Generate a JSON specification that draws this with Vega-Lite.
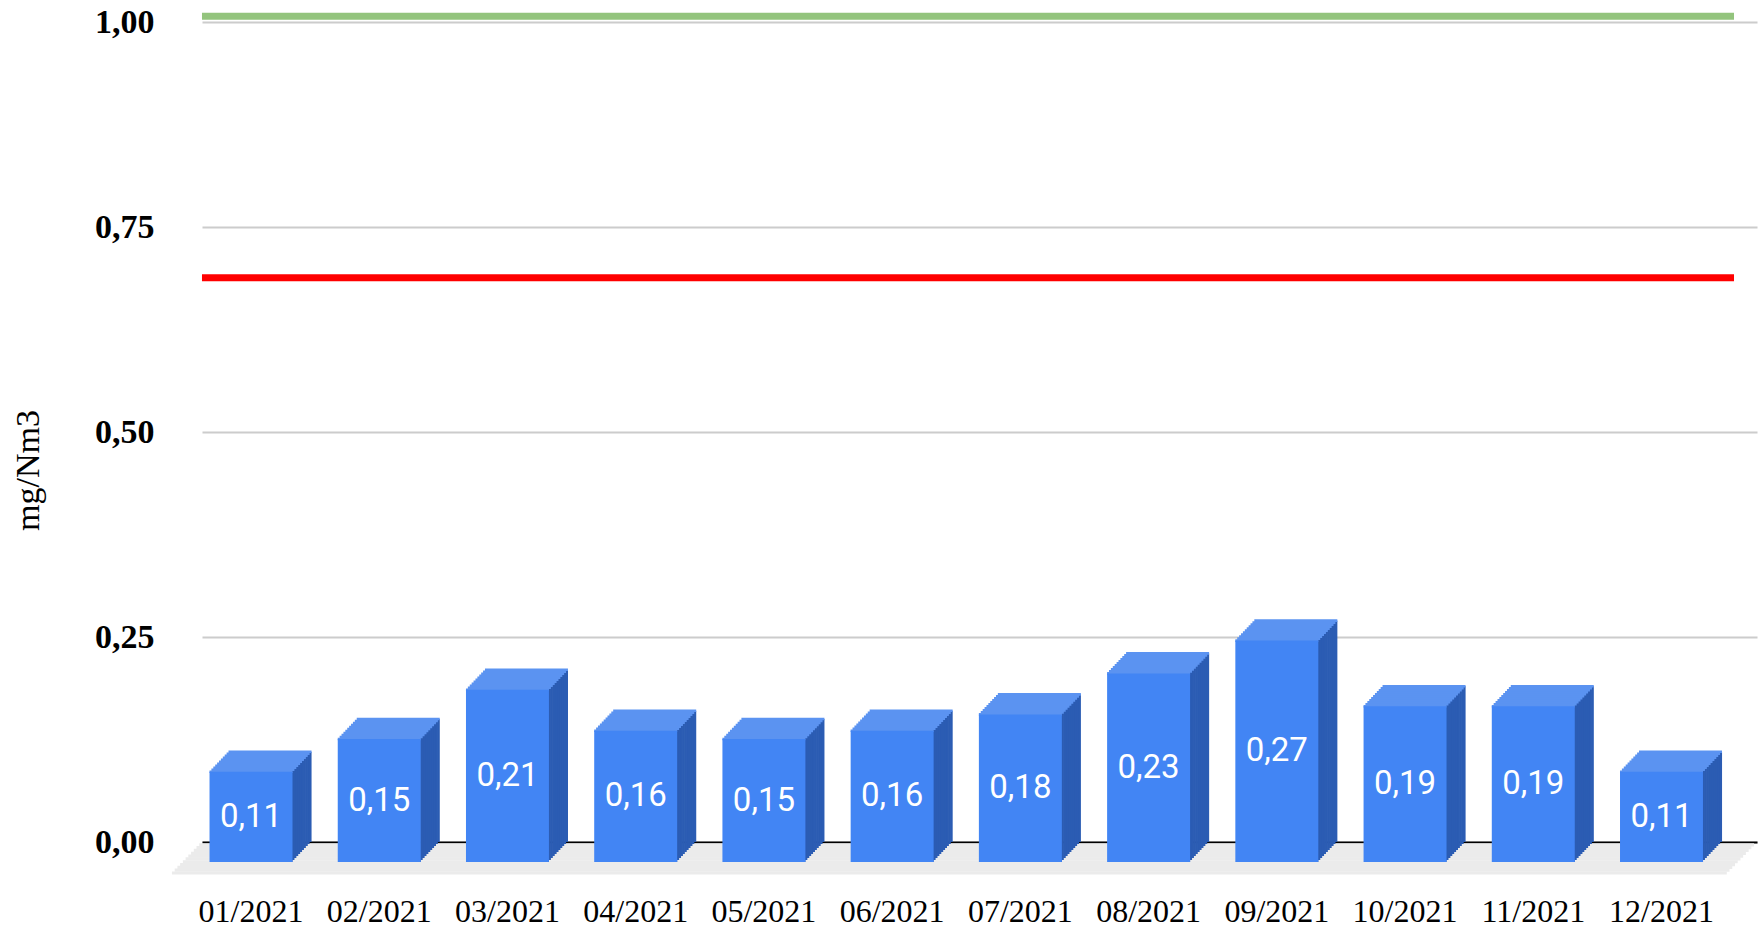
{
  "$schema": "https://vega.github.io/schema/vega-lite/v6.json",
  "width": 1555,
  "height": 820,
  "autosize": {"type": "none"},
  "padding": {"left": 202, "top": 22, "right": 6, "bottom": 90},
  "background": "white",
  "config": {
    "view": {"stroke": null},
    "tick": {"opacity": 1},
    "locale": {"number": {"decimal": ",", "thousands": ".", "grouping": [3], "currency": ["", " €"]}}
  },
  "datasets": {
    "bars": [
      {"month": "01/2021", "value": 0.11},
      {"month": "02/2021", "value": 0.15},
      {"month": "03/2021", "value": 0.21},
      {"month": "04/2021", "value": 0.16},
      {"month": "05/2021", "value": 0.15},
      {"month": "06/2021", "value": 0.16},
      {"month": "07/2021", "value": 0.18},
      {"month": "08/2021", "value": 0.23},
      {"month": "09/2021", "value": 0.27},
      {"month": "10/2021", "value": 0.19},
      {"month": "11/2021", "value": 0.19},
      {"month": "12/2021", "value": 0.11}
    ],
    "limits": [
      {"limit": "green", "value": 1.007},
      {"limit": "red", "value": 0.688}
    ]
  },
  "data": {"name": "bars"},
  "layer": [
    {"mark": {"type": "bar", "color": "#4285f4", "opacity": 0},
     "encoding": {
       "x": {"field": "month", "type": "nominal", "sort": null,
             "scale": {"paddingInner": 0.353, "paddingOuter": 0.24, "align": 0.431},
             "axis": {"title": null, "labelAngle": 0, "labelFont": "Liberation Serif", "labelFontSize": 32, "labelColor": "#000000",
                      "labelPadding": 54, "labelBaseline": "top", "labelOffset": -19, "ticks": false, "domain": true,
                      "domainColor": "#000000", "domainWidth": 2, "grid": false}},
       "y": {"field": "value", "type": "quantitative",
             "scale": {"domain": [0, 1], "nice": false, "zero": true},
             "axis": {"title": "mg/Nm3", "values": [0, 0.25, 0.5, 0.75, 1], "format": ".2f",
                      "labelFont": "Liberation Serif", "labelFontWeight": "bold", "labelFontSize": 34, "labelColor": "#000000",
                      "labelPadding": 48, "labelBaseline": "middle", "ticks": false, "domain": false,
                      "gridColor": "#cccccc", "gridWidth": 2,
                      "titleFont": "Liberation Serif", "titleFontSize": 34, "titleFontWeight": "normal", "titleColor": "#000000",
                      "titleX": -174, "titleY": 448, "titleAngle": -90, "titleBaseline": "middle", "titleAlign": "center"}}
     }},
    {"data": {"values": [{}]}, "mark": {"type": "rule", "color": "#ebebeb", "strokeWidth": 3.2, "xOffset": -2.73, "x2Offset": -2.73, "yOffset": 2.82, "y2Offset": 2.82}, "encoding": {"x": {"datum": "01/2021", "bandPosition": -0.32}, "x2": {"datum": "12/2021", "bandPosition": 1.42}, "y": {"datum": 0}}},
    {"data": {"values": [{}]}, "mark": {"type": "rule", "color": "#ebebeb", "strokeWidth": 3.2, "xOffset": -5.46, "x2Offset": -5.46, "yOffset": 5.64, "y2Offset": 5.64}, "encoding": {"x": {"datum": "01/2021", "bandPosition": -0.32}, "x2": {"datum": "12/2021", "bandPosition": 1.42}, "y": {"datum": 0}}},
    {"data": {"values": [{}]}, "mark": {"type": "rule", "color": "#ebebeb", "strokeWidth": 3.2, "xOffset": -8.19, "x2Offset": -8.19, "yOffset": 8.46, "y2Offset": 8.46}, "encoding": {"x": {"datum": "01/2021", "bandPosition": -0.32}, "x2": {"datum": "12/2021", "bandPosition": 1.42}, "y": {"datum": 0}}},
    {"data": {"values": [{}]}, "mark": {"type": "rule", "color": "#ebebeb", "strokeWidth": 3.2, "xOffset": -10.92, "x2Offset": -10.92, "yOffset": 11.28, "y2Offset": 11.28}, "encoding": {"x": {"datum": "01/2021", "bandPosition": -0.32}, "x2": {"datum": "12/2021", "bandPosition": 1.42}, "y": {"datum": 0}}},
    {"data": {"values": [{}]}, "mark": {"type": "rule", "color": "#ebebeb", "strokeWidth": 3.2, "xOffset": -13.65, "x2Offset": -13.65, "yOffset": 14.1, "y2Offset": 14.1}, "encoding": {"x": {"datum": "01/2021", "bandPosition": -0.32}, "x2": {"datum": "12/2021", "bandPosition": 1.42}, "y": {"datum": 0}}},
    {"data": {"values": [{}]}, "mark": {"type": "rule", "color": "#ebebeb", "strokeWidth": 3.2, "xOffset": -16.38, "x2Offset": -16.38, "yOffset": 16.92, "y2Offset": 16.92}, "encoding": {"x": {"datum": "01/2021", "bandPosition": -0.32}, "x2": {"datum": "12/2021", "bandPosition": 1.42}, "y": {"datum": 0}}},
    {"data": {"values": [{}]}, "mark": {"type": "rule", "color": "#ebebeb", "strokeWidth": 3.2, "xOffset": -19.11, "x2Offset": -19.11, "yOffset": 19.74, "y2Offset": 19.74}, "encoding": {"x": {"datum": "01/2021", "bandPosition": -0.32}, "x2": {"datum": "12/2021", "bandPosition": 1.42}, "y": {"datum": 0}}},
    {"data": {"values": [{}]}, "mark": {"type": "rule", "color": "#ebebeb", "strokeWidth": 3.2, "xOffset": -21.84, "x2Offset": -21.84, "yOffset": 22.56, "y2Offset": 22.56}, "encoding": {"x": {"datum": "01/2021", "bandPosition": -0.32}, "x2": {"datum": "12/2021", "bandPosition": 1.42}, "y": {"datum": 0}}},
    {"data": {"values": [{}]}, "mark": {"type": "rule", "color": "#ebebeb", "strokeWidth": 3.2, "xOffset": -24.57, "x2Offset": -24.57, "yOffset": 25.38, "y2Offset": 25.38}, "encoding": {"x": {"datum": "01/2021", "bandPosition": -0.32}, "x2": {"datum": "12/2021", "bandPosition": 1.42}, "y": {"datum": 0}}},
    {"data": {"values": [{}]}, "mark": {"type": "rule", "color": "#ebebeb", "strokeWidth": 3.2, "xOffset": -27.3, "x2Offset": -27.3, "yOffset": 28.2, "y2Offset": 28.2}, "encoding": {"x": {"datum": "01/2021", "bandPosition": -0.32}, "x2": {"datum": "12/2021", "bandPosition": 1.42}, "y": {"datum": 0}}},
    {"data": {"values": [{}]}, "mark": {"type": "rule", "color": "#ebebeb", "strokeWidth": 3.2, "xOffset": -30.03, "x2Offset": -30.03, "yOffset": 31.02, "y2Offset": 31.02}, "encoding": {"x": {"datum": "01/2021", "bandPosition": -0.32}, "x2": {"datum": "12/2021", "bandPosition": 1.42}, "y": {"datum": 0}}},
    {"data": {"name": "limits"}, "mark": {"type": "rule", "strokeWidth": 7},
     "encoding": {"x": {"datum": "01/2021", "bandPosition": -0.32}, "x2": {"datum": "12/2021", "bandPosition": 1.145},
                  "y": {"field": "value", "type": "quantitative"},
                  "color": {"field": "limit", "type": "nominal", "scale": {"domain": ["green", "red"], "range": ["#93c47d", "#ff0000"]}, "legend": null}}},
    {"mark": {"type": "bar", "color": "#2b5cb3", "width": 2.6, "xOffset": 21.25, "x2Offset": 21.25, "yOffset": 20, "y2Offset": 20}, "encoding": {"x": {"field": "month", "type": "nominal"}, "y": {"field": "value", "type": "quantitative"}}},
    {"mark": {"type": "bar", "color": "#2b5cb3", "width": 2.6, "xOffset": 23.15, "x2Offset": 23.15, "yOffset": 18, "y2Offset": 18}, "encoding": {"x": {"field": "month", "type": "nominal"}, "y": {"field": "value", "type": "quantitative"}}},
    {"mark": {"type": "bar", "color": "#2b5cb3", "width": 2.6, "xOffset": 25.05, "x2Offset": 25.05, "yOffset": 16, "y2Offset": 16}, "encoding": {"x": {"field": "month", "type": "nominal"}, "y": {"field": "value", "type": "quantitative"}}},
    {"mark": {"type": "bar", "color": "#2b5cb3", "width": 2.6, "xOffset": 26.95, "x2Offset": 26.95, "yOffset": 14, "y2Offset": 14}, "encoding": {"x": {"field": "month", "type": "nominal"}, "y": {"field": "value", "type": "quantitative"}}},
    {"mark": {"type": "bar", "color": "#2b5cb3", "width": 2.6, "xOffset": 28.85, "x2Offset": 28.85, "yOffset": 12, "y2Offset": 12}, "encoding": {"x": {"field": "month", "type": "nominal"}, "y": {"field": "value", "type": "quantitative"}}},
    {"mark": {"type": "bar", "color": "#2b5cb3", "width": 2.6, "xOffset": 30.75, "x2Offset": 30.75, "yOffset": 10, "y2Offset": 10}, "encoding": {"x": {"field": "month", "type": "nominal"}, "y": {"field": "value", "type": "quantitative"}}},
    {"mark": {"type": "bar", "color": "#2b5cb3", "width": 2.6, "xOffset": 32.65, "x2Offset": 32.65, "yOffset": 8, "y2Offset": 8}, "encoding": {"x": {"field": "month", "type": "nominal"}, "y": {"field": "value", "type": "quantitative"}}},
    {"mark": {"type": "bar", "color": "#2b5cb3", "width": 2.6, "xOffset": 34.55, "x2Offset": 34.55, "yOffset": 6, "y2Offset": 6}, "encoding": {"x": {"field": "month", "type": "nominal"}, "y": {"field": "value", "type": "quantitative"}}},
    {"mark": {"type": "bar", "color": "#2b5cb3", "width": 2.6, "xOffset": 36.45, "x2Offset": 36.45, "yOffset": 4, "y2Offset": 4}, "encoding": {"x": {"field": "month", "type": "nominal"}, "y": {"field": "value", "type": "quantitative"}}},
    {"mark": {"type": "bar", "color": "#2b5cb3", "width": 2.6, "xOffset": 38.35, "x2Offset": 38.35, "yOffset": 2, "y2Offset": 2}, "encoding": {"x": {"field": "month", "type": "nominal"}, "y": {"field": "value", "type": "quantitative"}}},
    {"mark": {"type": "bar", "color": "#2b5cb3", "width": 2.6, "xOffset": 40.25, "x2Offset": 40.25, "yOffset": 0, "y2Offset": 0}, "encoding": {"x": {"field": "month", "type": "nominal"}, "y": {"field": "value", "type": "quantitative"}}},
    {"mark": {"type": "tick", "color": "#5b93f1", "opacity": 1, "size": 83, "thickness": 2.6, "orient": "horizontal", "xOffset": -19, "yOffset": 20}, "encoding": {"x": {"field": "month", "type": "nominal"}, "y": {"field": "value", "type": "quantitative"}}},
    {"mark": {"type": "tick", "color": "#5b93f1", "opacity": 1, "size": 83, "thickness": 2.6, "orient": "horizontal", "xOffset": -17.1, "yOffset": 18}, "encoding": {"x": {"field": "month", "type": "nominal"}, "y": {"field": "value", "type": "quantitative"}}},
    {"mark": {"type": "tick", "color": "#5b93f1", "opacity": 1, "size": 83, "thickness": 2.6, "orient": "horizontal", "xOffset": -15.2, "yOffset": 16}, "encoding": {"x": {"field": "month", "type": "nominal"}, "y": {"field": "value", "type": "quantitative"}}},
    {"mark": {"type": "tick", "color": "#5b93f1", "opacity": 1, "size": 83, "thickness": 2.6, "orient": "horizontal", "xOffset": -13.3, "yOffset": 14}, "encoding": {"x": {"field": "month", "type": "nominal"}, "y": {"field": "value", "type": "quantitative"}}},
    {"mark": {"type": "tick", "color": "#5b93f1", "opacity": 1, "size": 83, "thickness": 2.6, "orient": "horizontal", "xOffset": -11.4, "yOffset": 12}, "encoding": {"x": {"field": "month", "type": "nominal"}, "y": {"field": "value", "type": "quantitative"}}},
    {"mark": {"type": "tick", "color": "#5b93f1", "opacity": 1, "size": 83, "thickness": 2.6, "orient": "horizontal", "xOffset": -9.5, "yOffset": 10}, "encoding": {"x": {"field": "month", "type": "nominal"}, "y": {"field": "value", "type": "quantitative"}}},
    {"mark": {"type": "tick", "color": "#5b93f1", "opacity": 1, "size": 83, "thickness": 2.6, "orient": "horizontal", "xOffset": -7.6, "yOffset": 8}, "encoding": {"x": {"field": "month", "type": "nominal"}, "y": {"field": "value", "type": "quantitative"}}},
    {"mark": {"type": "tick", "color": "#5b93f1", "opacity": 1, "size": 83, "thickness": 2.6, "orient": "horizontal", "xOffset": -5.7, "yOffset": 6}, "encoding": {"x": {"field": "month", "type": "nominal"}, "y": {"field": "value", "type": "quantitative"}}},
    {"mark": {"type": "tick", "color": "#5b93f1", "opacity": 1, "size": 83, "thickness": 2.6, "orient": "horizontal", "xOffset": -3.8, "yOffset": 4}, "encoding": {"x": {"field": "month", "type": "nominal"}, "y": {"field": "value", "type": "quantitative"}}},
    {"mark": {"type": "tick", "color": "#5b93f1", "opacity": 1, "size": 83, "thickness": 2.6, "orient": "horizontal", "xOffset": -1.9, "yOffset": 2}, "encoding": {"x": {"field": "month", "type": "nominal"}, "y": {"field": "value", "type": "quantitative"}}},
    {"mark": {"type": "tick", "color": "#5b93f1", "opacity": 1, "size": 83, "thickness": 2.6, "orient": "horizontal", "xOffset": 0, "yOffset": 0}, "encoding": {"x": {"field": "month", "type": "nominal"}, "y": {"field": "value", "type": "quantitative"}}},
    {"mark": {"type": "bar", "color": "#4285f4", "xOffset": -19, "x2Offset": -19, "yOffset": 20, "y2Offset": 20},
     "encoding": {"x": {"field": "month", "type": "nominal"}, "y": {"field": "value", "type": "quantitative"}}},
    {"transform": [{"calculate": "datum.value / 2", "as": "mid"}],
     "mark": {"type": "text", "font": "Roboto", "fontSize": 33, "color": "#ffffff", "align": "center", "baseline": "middle", "dx": -19, "dy": 20},
     "encoding": {"x": {"field": "month", "type": "nominal"}, "y": {"field": "mid", "type": "quantitative"},
                  "text": {"field": "value", "type": "quantitative", "format": ".2f"}}}
  ]
}
